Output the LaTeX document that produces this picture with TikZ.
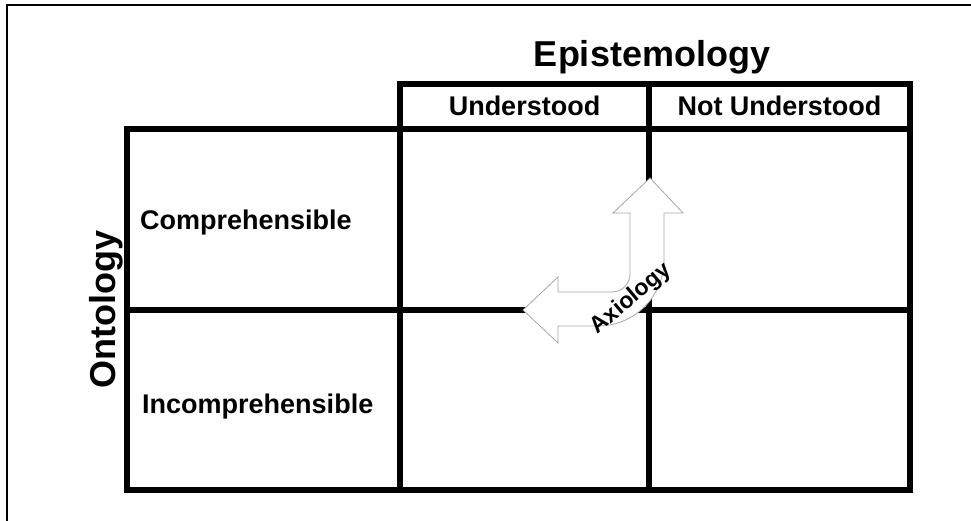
\documentclass[tikz,border=0pt]{standalone}
\usepackage{fontspec}
\setmainfont{Liberation Sans}
\begin{document}
\begin{tikzpicture}[x=1pt,y=1pt]
	\tikzstyle{every node}+=[inner sep=0pt]
	\tikzstyle{cell}=[black, line width=5.2pt]
	\tikzstyle{head}=[font=\bfseries\fontsize{36}{43}\selectfont]
	\tikzstyle{label}=[font=\bfseries\fontsize{27}{32}\selectfont]
	\useasboundingbox (0,0) rectangle (971,521);
	\draw [black, line width=1.5pt] (7,0) -- (7,516) -- (971,516);
	% header row
	\draw [cell] (400,392) rectangle (910,437);
	\draw [cell] (649,392) -- (649,437);
	% the four cells
	\draw [cell] (127,31) rectangle (910,392);
	\draw [cell] (400,31) -- (400,392);
	\draw [cell] (649,31) -- (649,392);
	\draw [cell] (127,211) -- (910,211);
	\node (epi) [head, anchor=base] at (652,454) {Epistemology};
	\node (und) [label, anchor=base] at (524.5,405) {Understood};
	\node (notund) [label, anchor=base] at (779.5,405) {Not Understood};
	\node (onto) [head, anchor=base, rotate=90] at (115,211) {Ontology};
	\node (comp) [label, anchor=base west] at (140,291) {Comprehensible};
	\node (incomp) [label, anchor=base west] at (142,107) {Incomprehensible};
	% axiology arrow
	\draw [gray!70, fill=white, line width=0.8pt] (650,343) -- (683,308) -- (664,308)
		-- (664,261) arc (0:-90:66) -- (558,195) -- (558,178) -- (523,211)
		-- (558,244) -- (558,229) -- (612,229) arc (-90:0:18) -- (630,308)
		-- (613,308) -- cycle;
	\node (axi) [rotate=40, font=\bfseries\fontsize{23}{27}\selectfont] at (631,222) {Axiology};
\end{tikzpicture}
\end{document}
